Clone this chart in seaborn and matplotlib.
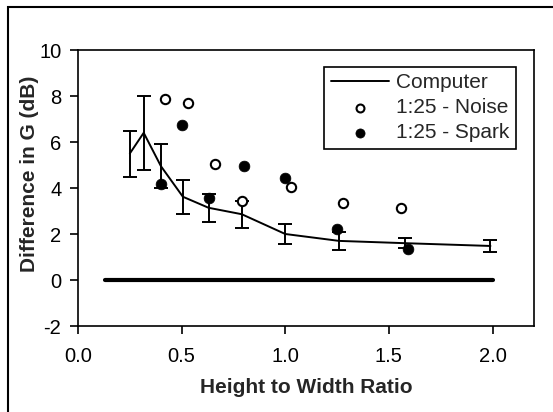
import matplotlib
matplotlib.use("Agg")
import matplotlib.pyplot as plt
import seaborn as sns
import pandas as pd
from matplotlib.patches import Rectangle

# Data
comp_x = [0.25, 0.317, 0.40, 0.506, 0.63, 0.79, 1.0, 1.26, 1.58, 1.99]
comp_y = [5.5, 6.4, 4.95, 3.62, 3.14, 2.86, 2.0, 1.70, 1.60, 1.48]
comp_err = [1.0, 1.6, 0.95, 0.73, 0.6, 0.58, 0.42, 0.4, 0.22, 0.25]

noise_x = [0.42, 0.53, 0.66, 0.79, 1.03, 1.28, 1.56]
noise_y = [7.85, 7.7, 5.03, 3.43, 4.03, 3.36, 3.12]

spark_x = [0.40, 0.50, 0.63, 0.80, 1.00, 1.25, 1.59]
spark_y = [4.17, 6.72, 3.58, 4.96, 4.42, 2.22, 1.35]

zero_x = [0.13, 2.0]
zero_y = [0, 0]

x_ticks = [0.0, 0.5, 1.0, 1.5, 2.0]
y_ticks = [-2, 0, 2, 4, 6, 8, 10]

sns.set_style("ticks")
plt.rcParams['font.family'] = ['Liberation Sans', 'DejaVu Sans']

fig = plt.figure(figsize=(5.53, 4.12), dpi=100)
ax = fig.add_axes([78/553, 1-326/412, (534-78)/553, (326-50)/412])

comp_df = pd.DataFrame({"x": comp_x, "y": comp_y})
noise_df = pd.DataFrame({"x": noise_x, "y": noise_y})
spark_df = pd.DataFrame({"x": spark_x, "y": spark_y})
zero_df = pd.DataFrame({"x": zero_x, "y": zero_y})

sns.lineplot(data=zero_df, x="x", y="y", ax=ax, color="black", linewidth=3.0, legend=False)
ax.errorbar(comp_x, comp_y, yerr=comp_err, fmt="none", ecolor="black",
            elinewidth=1.4, capsize=5, capthick=1.4, zorder=2)
sns.lineplot(data=comp_df, x="x", y="y", ax=ax, color="black", linewidth=1.4,
             label="Computer", zorder=3)
sns.scatterplot(data=noise_df, x="x", y="y", ax=ax, marker="o", s=45,
                facecolor="white", edgecolor="black", linewidth=1.5,
                label="1:25 - Noise", zorder=4)
sns.scatterplot(data=spark_df, x="x", y="y", ax=ax, marker="o", s=60,
                color="black", edgecolor="black", linewidth=0.5,
                label="1:25 - Spark", zorder=5)

ax.set_xlim(0, 2.2)
ax.set_ylim(-2, 10)
ax.set_xticks(x_ticks)
ax.set_xticklabels([f"{v:.1f}" for v in x_ticks])
ax.set_yticks(y_ticks)
ax.set_yticklabels([str(v) for v in y_ticks])
ax.tick_params(direction="out", length=6, width=1.2, labelsize=14.5, colors="black", pad=6)
ax.tick_params(axis="x", pad=9)
for sp in ax.spines.values():
    sp.set_visible(True)
    sp.set_linewidth(1.2)
    sp.set_color("black")

ax.set_xlabel("Height to Width Ratio", fontsize=15, fontweight="bold", labelpad=9)
ax.set_ylabel("Difference in G (dB)", fontsize=15, fontweight="bold")
ax.yaxis.set_label_coords(-0.085, 0.55)

leg = ax.legend(loc="upper right", bbox_to_anchor=(0.96, 0.94), fontsize=15,
                frameon=True, fancybox=False, edgecolor="black", framealpha=1,
                handlelength=2.8, handletextpad=0.35, borderpad=0.3, labelspacing=0.3,
                borderaxespad=0, markerscale=0.85)
leg.get_frame().set_linewidth(1.2)

fig.patches.append(Rectangle((8/553, -0.1), 1.2, 1.1-7/412, transform=fig.transFigure,
                             fill=False, edgecolor="black", linewidth=1.5))

fig.savefig("out.png", dpi=100, facecolor="white")
